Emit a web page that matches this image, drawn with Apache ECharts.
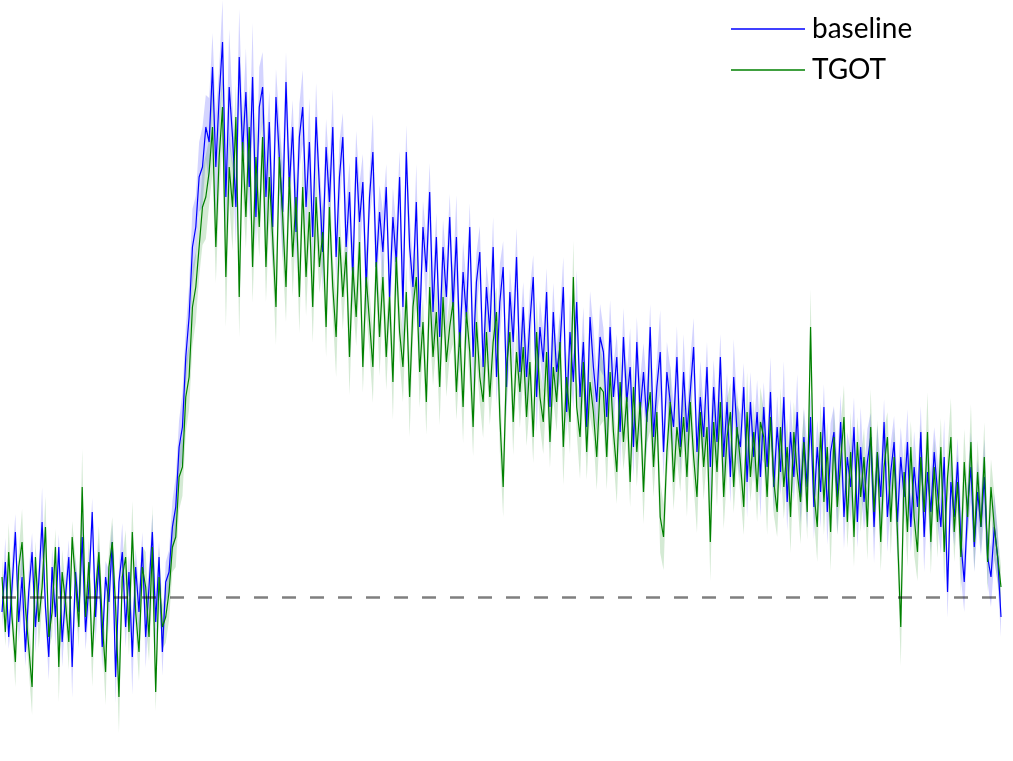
<!DOCTYPE html>
<html>
<head>
<meta charset="utf-8">
<script src="https://cdn.jsdelivr.net/npm/echarts@6/dist/echarts.min.js"></script>
<style>
html, body { margin: 0; padding: 0; background: #fff; }
#chart { width: 1013px; height: 761px; }
</style>
</head>
<body>
<div id="chart"></div>
<script>
// signal values per sample, 0 = resting level (dashed line)
var baseline = [
    -15, 35, -40, 10, 65, -25, 20, -55, 5, 45,
    -30, 15, 75, -10, -60, 30, -20, 50, -45, 0,
    40, -70, 25, -15, 60, -35, 10, 85, -20, 35,
    -50, 20, -5, 55, -80, 15, 45, -30, 25, -60,
    30, -15, 50, -40, 10, 65, -25, 40, -55,
    15, 25, 70, 90, 150, 170, 240, 280, 350, 370, 420, 430, 470, 455,
    530, 430, 500, 555, 400, 510, 460, 390, 540, 445, 505, 410, 520, 380, 490,
    510, 400, 475, 370, 500, 440, 385, 515, 410, 470, 365, 460,
    490, 390, 455, 360, 480, 410, 345, 450, 395, 470,
    340, 420, 460, 350, 405, 320, 440, 375, 415, 310,
    400, 445, 330, 385,
    345, 410, 300, 380, 335, 420, 290, 445, 350, 310,
    395, 270, 370, 325, 405, 285, 360, 260, 350, 300, 380,
    290, 360, 250, 325, 280, 370, 240, 315, 345, 230,
    310, 265, 350, 220, 295, 330, 210, 305, 255, 340, 225,
    290, 220, 275, 320, 200, 270, 235, 305, 190, 285,
    225, 250, 310, 185, 265, 215, 295, 200, 255, 170,
    280, 230, 195, 260,
    245, 180, 270, 200, 240, 165, 260, 195, 230, 150,
    255, 185, 225, 175, 270, 160, 210, 245, 145, 225,
    195, 170, 240, 150,
    225, 165, 205, 250, 145, 200, 160, 230, 130, 210,
    155, 240, 140, 195, 120, 220, 165, 150, 210, 115,
    195, 140, 185, 120,
    190, 130, 205, 110, 170, 125, 200, 95, 165, 120, 185, 100,
    160, 110, 180, 90, 150, 105, 190, 85, 145, 165,
    100, 175, 80, 140, 110, 170, 75, 150, 95, 135,
    160, 70, 145, 100, 175, 80, 125, 155, 75, 140,
    100, 155, 70, 130, 90, 165, 60, 125, 85, 145,
    105, 70, 140, 5, 115, 80, 135, 55, 15, 90,
    130, 50, 105, 70, 120, 40, 20,
    70, 40, -20
];
var tgot = [
    20, -35, 45, -20, -65, 30, 55, -10, -50, -90,
    40, -25, 10, 70, -40, -15, 50, -70, 25, -5,
    -45, 60, 15, -30, 110, -20, 35, -60, 5, 45,
    -25, -75, 30, 55, -10, -100, 20, 40, -35, 65,
    -15, -55, 30, 10, -40, 50, -95, 20, -30,
    -20, 5, 50, 60, 120, 130, 200, 220, 290, 310, 350, 390, 400, 425,
    470, 350, 440, 490, 320, 430, 390, 480, 300, 455, 380, 470, 330, 440, 370,
    460, 330, 420, 360, 290, 440, 380, 310, 420, 340, 400, 300,
    410, 320, 385, 290, 400, 330, 365, 270, 390, 310,
    260, 360, 300, 345, 240, 330, 280, 355, 230, 320,
    275, 230, 335, 260,
    320, 240, 300, 215, 340, 265, 230, 305, 200, 290,
    320, 225, 275, 195, 310, 240, 285, 210, 300, 235, 270,
    295, 205, 265, 190, 285, 245, 170, 275, 220, 195,
    265, 200, 255, 285, 180, 110, 230, 265, 175, 245, 205,
    250, 180, 235, 160, 265, 200, 175, 245, 155, 230,
    195, 255, 150, 220, 175, 320, 190, 160, 235, 145,
    215, 185, 140, 210,
    205, 140, 225, 165, 125, 215, 155, 200, 115, 210,
    145, 195, 105, 180, 205, 130, 185, 80, 60, 145,
    195, 115, 170, 140,
    180, 120, 195, 140, 100, 185, 130, 170, 55, 175,
    125, 195, 100, 160, 185, 110, 170, 135, 90, 185,
    120, 165, 105, 175,
    160, 100, 180, 115, 85, 170, 110, 150, 80, 165, 125, 95,
    155, 85, 270, 105, 70, 165, 95, 150, 65, 160,
    90, 135, 180, 75, 145, 60, 155, 100, 140, 70,
    170, 85, 145, 55, 130, 160, 75, 140, 65, -30,
    125, 65, 150, 80, 45, 140, 85, 165, 55, 130,
    75, 150, 45, 120, 160, 65, 115, 40, 135, 80,
    155, 55, 125, 70, 140, 35, 110,
    70, 40, 10
];
// half width of the shaded band around each line
var baselineSpread = [
    15, 24, 12, 28, 18, 20, 32, 14, 22, 19,
    26, 16, 35, 14, 23, 18, 30, 13, 25, 20,
    17, 31, 15, 21, 34, 18, 24, 14, 27, 20,
    22, 16, 32, 19, 26, 14, 29, 21, 17, 38,
    18, 25, 15, 31, 21, 18, 28, 16, 24, 20,
    22, 26, 30, 27, 34, 28, 32, 38, 31, 35,
    40, 32, 44, 34, 52, 30, 42, 36, 58, 32,
    38, 48, 30, 44, 34, 54, 32, 40, 35, 46,
    31, 42, 28, 38, 50, 30, 36, 27, 40, 33,
    37, 26, 44, 30, 34, 24, 41, 28, 33, 38,
    27, 36, 24, 42, 30, 33, 26, 39, 28, 35,
    24, 38, 31, 27, 41, 23, 33, 29, 36, 26,
    45, 27, 32, 24, 38, 30, 26, 35, 29, 40,
    24, 33, 27, 36, 23, 32, 42, 26, 30, 35,
    24, 39, 29, 26, 33, 22, 36, 30, 27, 38,
    26, 32, 23, 35, 29, 40, 25, 30, 33, 22,
    36, 27, 31, 24, 42, 29, 26, 35, 30, 24,
    38, 27, 32, 22, 35, 30, 26, 40, 29, 33,
    24, 36, 27, 32, 23, 35, 29, 26, 39, 30,
    25, 33, 29, 36, 23, 32, 27, 42, 26, 30,
    35, 25, 31, 27, 38, 23, 33, 29, 26, 36,
    30, 25, 40, 27, 32, 23, 35, 29, 26, 38,
    27, 33, 24, 36, 30, 26, 32, 40, 25, 29,
    35, 26, 31, 23, 36, 29, 33, 25, 38, 27,
    30, 42, 25, 32, 27, 36, 23, 33, 29, 26,
    38, 27, 32, 25, 35, 30, 26, 40, 29, 33,
    24, 36, 27, 32, 23, 35, 29, 26, 39, 30,
    27, 33, 25, 36, 30, 26, 35, 29, 40, 25,
    32, 27, 38, 26, 33, 29, 24, 36, 30, 27,
    35, 25, 32, 29, 38, 26, 30, 33, 27, 20
];
var tgotSpread = [
    20, 14, 29, 17, 25, 15, 33, 19, 23, 28,
    16, 26, 20, 31, 14, 24, 18, 35, 22, 18,
    28, 16, 25, 21, 38, 18, 23, 30, 15, 26,
    19, 33, 17, 25, 21, 36, 16, 27, 23, 31,
    18, 29, 21, 35, 24, 42, 19, 30, 22, 26,
    28, 25, 30, 33, 29, 36, 32, 39, 35, 30,
    38, 42, 33, 46, 36, 40, 32, 50, 35, 44,
    33, 40, 45, 32, 42, 36, 48, 30, 39, 35,
    43, 32, 38, 29, 42, 35, 30, 40, 28, 36,
    32, 39, 28, 36, 42, 26, 35, 30, 38, 29,
    40, 28, 33, 25, 38, 32, 29, 42, 26, 35,
    30, 36, 26, 39, 29, 33, 25, 38, 32, 28,
    35, 26, 40, 30, 28, 36, 25, 33, 39, 29,
    32, 38, 26, 35, 29, 42, 28, 32, 36, 25,
    33, 29, 39, 26, 36, 30, 28, 40, 25, 35,
    30, 38, 28, 33, 25, 36, 32, 29, 40, 26,
    35, 29, 32, 39, 26, 33, 30, 25, 38, 28,
    32, 36, 26, 42, 30, 28, 35, 25, 33, 39,
    29, 33, 38, 26, 32, 36, 28, 40, 25, 30,
    35, 29, 32, 26, 39, 30, 28, 36, 33, 25,
    38, 28, 32, 35, 26, 40, 30, 29, 36, 25,
    33, 30, 39, 28, 35, 25, 32, 38, 29, 26,
    36, 32, 28, 40, 25, 33, 30, 35, 26, 38,
    29, 33, 25, 39, 32, 28, 36, 30, 26, 42,
    32, 28, 38, 26, 35, 30, 33, 25, 39, 29,
    28, 36, 32, 26, 40, 30, 25, 35, 29, 33,
    38, 26, 32, 29, 36, 25, 33, 30, 28, 39,
    30, 35, 26, 38, 29, 33, 25, 40, 32, 28,
    36, 29, 32, 26, 39, 30, 28, 35, 33, 25,
    38, 29, 32, 26, 35, 30, 28, 33, 25, 20
];
var seriesNames = ['baseline', 'TGOT'];
var lineColors = ['#0000ff', '#008000'];
var bandColors = ['rgba(0,0,255,0.17)', 'rgba(0,128,0,0.17)'];
var zeroLevel = 0;

function points(values) {
    return values.map(function (v, i) { return [i, v]; });
}

// shaded band drawn as one polygon: upper edge forward, lower edge back
function bandSeries(name, values, spread, color) {
    var band = values.map(function (v, i) { return [i, v - spread[i], v + spread[i]]; });
    return {
        name: name + ' band',
        type: 'custom',
        silent: true,
        data: band,
        encode: {x: 0, y: [1, 2]},
        renderItem: function (params, api) {
            if (params.dataIndex !== 0) return;
            var pts = [];
            band.forEach(function (d) { pts.push(api.coord([d[0], d[2]])); });
            for (var i = band.length - 1; i >= 0; i--) {
                pts.push(api.coord([band[i][0], band[i][1]]));
            }
            return {type: 'polygon', shape: {points: pts}, style: {fill: color}};
        }
    };
}

var series = [];
[baseline, tgot].forEach(function (values, k) {
    var spread = k === 0 ? baselineSpread : tgotSpread;
    series.push(bandSeries(seriesNames[k], values, spread, bandColors[k]));
    series.push({
        name: seriesNames[k],
        type: 'line',
        data: points(values),
        symbol: 'none',
        lineStyle: {color: lineColors[k], width: 1.2},
        itemStyle: {color: lineColors[k]}
    });
});

series[series.length - 1].markLine = {
    silent: true,
    symbol: 'none',
    label: {show: false},
    lineStyle: {color: 'rgba(0,0,0,0.5)', width: 2.5, type: [14, 14]},
    data: [[{coord: [0, zeroLevel]}, {coord: [299.5, zeroLevel]}]]
};

var chart = echarts.init(document.getElementById('chart'));
chart.setOption({
    animation: false,
    backgroundColor: '#fff',
    grid: {left: 0, right: 0, top: 0, bottom: 0},
    xAxis: {type: 'value', min: -0.6, max: 302.59, show: false},
    yAxis: {type: 'value', min: -164, max: 597, show: false},
    legend: {
        data: seriesNames,
        orient: 'vertical',
        left: 731,
        top: 15,
        padding: 0,
        icon: 'rect',
        itemWidth: 74,
        itemHeight: 1.5,
        itemGap: 13,
        textStyle: {fontFamily: 'Lato', fontSize: 28, color: '#000', lineHeight: 28, padding: [0, 0, 0, 2]}
    },
    series: series
});
</script>
</body>
</html>
